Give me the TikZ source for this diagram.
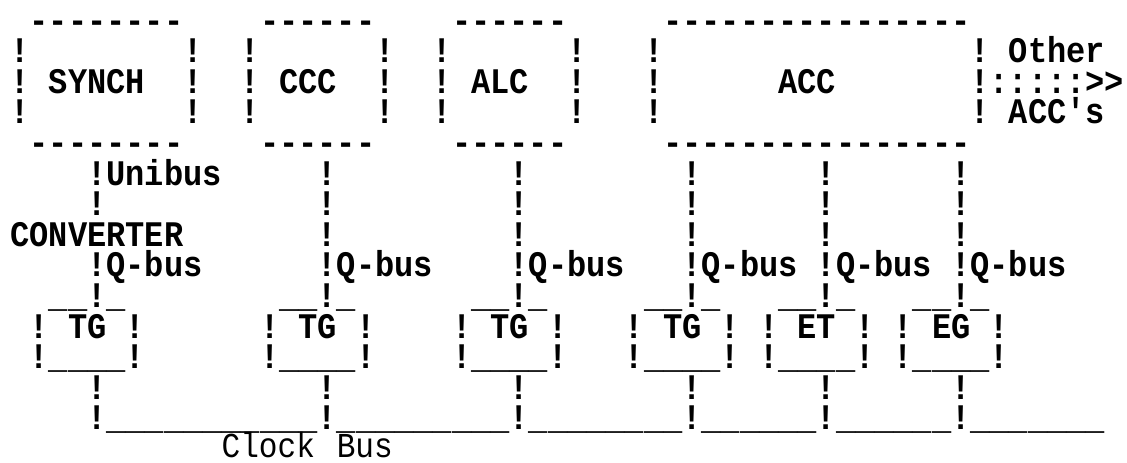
\documentclass[tikz,border=0pt]{standalone}
\usepackage{fontspec}
\newfontfamily\prt{Liberation Mono}[FakeStretch=0.889,Ligatures=TeXOff]
\tikzset{
  txt/.style={inner sep=0pt, outer sep=0pt, anchor=base west, text height=20pt, text depth=4pt,
    font=\prt\bfseries\fontsize{36}{36}\selectfont},
  lite/.style={txt, text depth=1pt, font=\prt\fontsize{35}{35}\selectfont},
}
% column c, row r -> left edge of character cell, baseline
\newcommand\T[4]{\node[txt] (#1) at ({10.4+19.2*(#2)},{-32-30.6*(#3)}) {#4};}
\begin{document}
\begin{tikzpicture}[x=1pt,y=1pt]
\fill[white] (0,0) rectangle (1127,-463);
\useasboundingbox (0,0) rectangle (1127,-463);
% ---- top boxes
\T{topS}{1}{0}{--------}
\T{topC}{13}{0}{------}
\T{topL}{23}{0}{------}
\T{topA}{34}{0}{----------------}
\T{botS}{1}{4}{--------}
\T{botC}{13}{4}{------}
\T{botL}{23}{4}{------}
\T{botA}{34}{4}{----------------}
\foreach \c in {0,9,12,19,22,29,33,50}{
  \node[txt] (ra\c) at ({10.4+19.2*\c},{-32-30.6*1}) {!};
  \node[txt] (rc\c) at ({10.4+19.2*\c},{-32-30.6*3}) {!};
}
\foreach \c in {0,9,12,19,22,29,33}{
  \node[txt] (rb\c) at ({10.4+19.2*\c},{-32-30.6*2}) {!};
}
\T{synch}{2}{2}{SYNCH}
\T{ccc}{14}{2}{CCC}
\T{alc}{24}{2}{ALC}
\T{acc}{40}{2}{ACC}
\T{other}{52}{1}{Other}
\T{arrow}{50}{2}{!:::::>>}
\T{accs}{52}{3}{ACC's}
% ---- vertical bus lines
\T{uni}{4}{5}{!Unibus}
\T{v46}{4}{6}{!}
\T{conv}{0}{7}{CONVERTER}
\foreach \c in {16,26,35,42,49}{
  \node[txt] (v5\c) at ({10.4+19.2*\c},{-32-30.6*5}) {!};
  \node[txt] (v6\c) at ({10.4+19.2*\c},{-32-30.6*6}) {!};
  \node[txt] (v7\c) at ({10.4+19.2*\c},{-32-30.6*7}) {!};
}
\foreach \c/\l in {4/TG,16/TG,26/TG,35/TG,42/ET,49/EG}{
  \node[txt] (qb\c) at ({10.4+19.2*\c},{-32-30.6*8}) {!Q-bus};
  \node[txt] (top\c) at ({10.4+19.2*(\c-2)},{-32-30.6*9}) {\_\_!\_};
  \node[txt] (bl\c) at ({10.4+19.2*(\c-3)},{-32-30.6*10}) {!};
  \node[txt] (lab\c) at ({10.4+19.2*(\c-1)},{-32-30.6*10}) {\l};
  \node[txt] (br\c) at ({10.4+19.2*(\c+2)},{-32-30.6*10}) {!};
  \node[txt] (bot\c) at ({10.4+19.2*(\c-3)},{-32-30.6*11}) {!\_\_\_\_!};
  \node[txt] (d\c) at ({10.4+19.2*\c},{-32-30.6*12}) {!};
  \node[txt] (k\c) at ({10.4+19.2*\c},{-32-30.6*13}) {!};
}
% ---- clock bus
\T{cb1}{5}{13}{\_\_\_\_\_\_\_\_\_\_\_}
\T{cb2}{17}{13}{\_\_\_\_\_\_\_\_\_}
\T{cb3}{27}{13}{\_\_\_\_\_\_\_\_}
\T{cb4}{36}{13}{\_\_\_\_\_\_}
\T{cb5}{43}{13}{\_\_\_\_\_\_}
\T{cb6}{50}{13}{\_\_\_\_\_\_\_}
\node[lite] (clock) at ({10.4+19.2*11},-457) {Clock};
\node[lite] (bus) at ({10.4+19.2*17},-457) {Bus};
\end{tikzpicture}
\end{document}
